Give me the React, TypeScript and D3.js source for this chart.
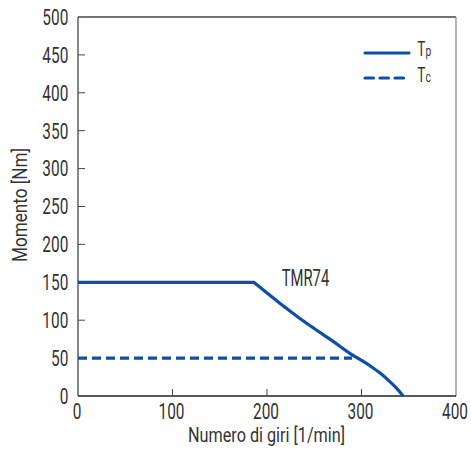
import React from "react";
import * as d3 from "d3";

// Peak torque Tp: flat section, then the falling characteristic (rpm, Nm)
const flatRpm = [0, 186];
const flatTorque = [150, 150];
const fallRpm = [186, 200, 217, 233, 250, 270, 288, 300, 310, 320, 330, 338, 344];
const fallTorque = [150, 136, 119, 104, 89, 72, 56, 47, 39, 30, 19, 9, 0];
// Continuous torque Tc
const contRpm = [0, 290];
const contTorque = [50, 50];

const xTicks = [0, 100, 200, 300, 400];
const yTicks = [0, 50, 100, 150, 200, 250, 300, 350, 400, 450, 500];

const W = 471;
const H = 457;
const left = 78;
const right = 456;
const top = 17;
const bottom = 396;
const blue = "#0d4ea6";
const ink = "#333";
const font = "Roboto, 'Liberation Sans', sans-serif";

type NTextProps = {
  x: number;
  y: number;
  size: number;
  sx?: number;
  anchor?: "start" | "middle" | "end";
  children: React.ReactNode;
};

// Condensed text: horizontally squeezed around its anchor point
function NText({ x, y, size, sx = 0.7, anchor = "start", children }: NTextProps) {
  return (
    <text
      transform={`translate(${x},${y}) scale(${sx},1)`}
      fontSize={size}
      textAnchor={anchor}
      fill={ink}
    >
      {children}
    </text>
  );
}

export default function App() {
  const x = d3.scaleLinear().domain([0, 400]).range([left, right]);
  const y = d3.scaleLinear().domain([0, 500]).range([bottom, top]);
  const linear = d3
    .line<[number, number]>()
    .x((d) => x(d[0]))
    .y((d) => y(d[1]));
  const smooth = d3
    .line<[number, number]>()
    .x((d) => x(d[0]))
    .y((d) => y(d[1]))
    .curve(d3.curveMonotoneX);
  const flat = flatRpm.map((r, i) => [r, flatTorque[i]] as [number, number]);
  const fall = fallRpm.map((r, i) => [r, fallTorque[i]] as [number, number]);
  const cont = contRpm.map((r, i) => [r, contTorque[i]] as [number, number]);
  const peakPath = (linear(flat) ?? "") + (smooth(fall) ?? "").replace(/^M/, "L");

  return (
    <svg
      width={W}
      height={H}
      style={{ position: "absolute", left: 0, top: 0 }}
      fontFamily={font}
    >
      {/* frame */}
      <line x1={left} x2={right} y1={top} y2={top} stroke="#444" strokeWidth={1.3} />
      <line x1={right} x2={right} y1={top} y2={bottom} stroke="#8a8a8a" strokeWidth={1.3} />
      <line x1={left} x2={left} y1={top} y2={bottom} stroke="#444" strokeWidth={1.3} />
      <line x1={left} x2={right} y1={bottom} y2={bottom} stroke="#222" strokeWidth={1.3} />

      {/* y ticks & labels */}
      {yTicks.map((t) => (
        <g key={"y" + t}>
          {t > 0 && t < 500 && (
            <line x1={left} x2={left + 7} y1={y(t)} y2={y(t)} stroke="#444" strokeWidth={1} />
          )}
          <NText x={68.3} y={y(t) + 7.8} size={22} anchor="end">
            {t}
          </NText>
        </g>
      ))}

      {/* x ticks & labels */}
      {xTicks.map((t) => (
        <g key={"x" + t}>
          {t > 0 && t < 400 && (
            <line x1={x(t)} x2={x(t)} y1={bottom} y2={bottom - 7} stroke="#444" strokeWidth={1} />
          )}
          <NText x={x(t) - 1} y={418.5} size={22} anchor="middle">
            {t}
          </NText>
        </g>
      ))}

      {/* axis titles */}
      <text
        x={188}
        y={442}
        fontSize={20}
        fill={ink}
        textLength={157}
        lengthAdjust="spacingAndGlyphs"
      >
        Numero di giri [1/min]
      </text>
      <text
        transform={`translate(26.5, 205) rotate(-90)`}
        x={-57}
        y={0}
        fontSize={20}
        fill={ink}
        textLength={114}
        lengthAdjust="spacingAndGlyphs"
      >
        Momento [Nm]
      </text>

      {/* curves */}
      <path
        d={linear(cont) ?? ""}
        fill="none"
        stroke={blue}
        strokeWidth={3.2}
        strokeDasharray="9 5"
      />
      <path d={peakPath} fill="none" stroke={blue} strokeWidth={3.2} strokeLinejoin="round" />

      <text
        x={281.7}
        y={286}
        fontSize={23}
        fill={ink}
        textLength={47.6}
        lengthAdjust="spacingAndGlyphs"
      >
        TMR74
      </text>

      {/* legend */}
      <line x1={365} x2={409} y1={53} y2={53} stroke={blue} strokeWidth={3.2} strokeLinecap="round" />
      <line
        x1={365}
        x2={409}
        y1={78}
        y2={78}
        stroke={blue}
        strokeWidth={3.2}
        strokeLinecap="round"
        strokeDasharray="8.5 6.5"
      />
      <NText x={417.3} y={55.7} size={20} sx={0.68}>
        T<tspan fontSize={15}>p</tspan>
      </NText>
      <NText x={417.3} y={81.7} size={20} sx={0.68}>
        T<tspan fontSize={15}>c</tspan>
      </NText>
    </svg>
  );
}
